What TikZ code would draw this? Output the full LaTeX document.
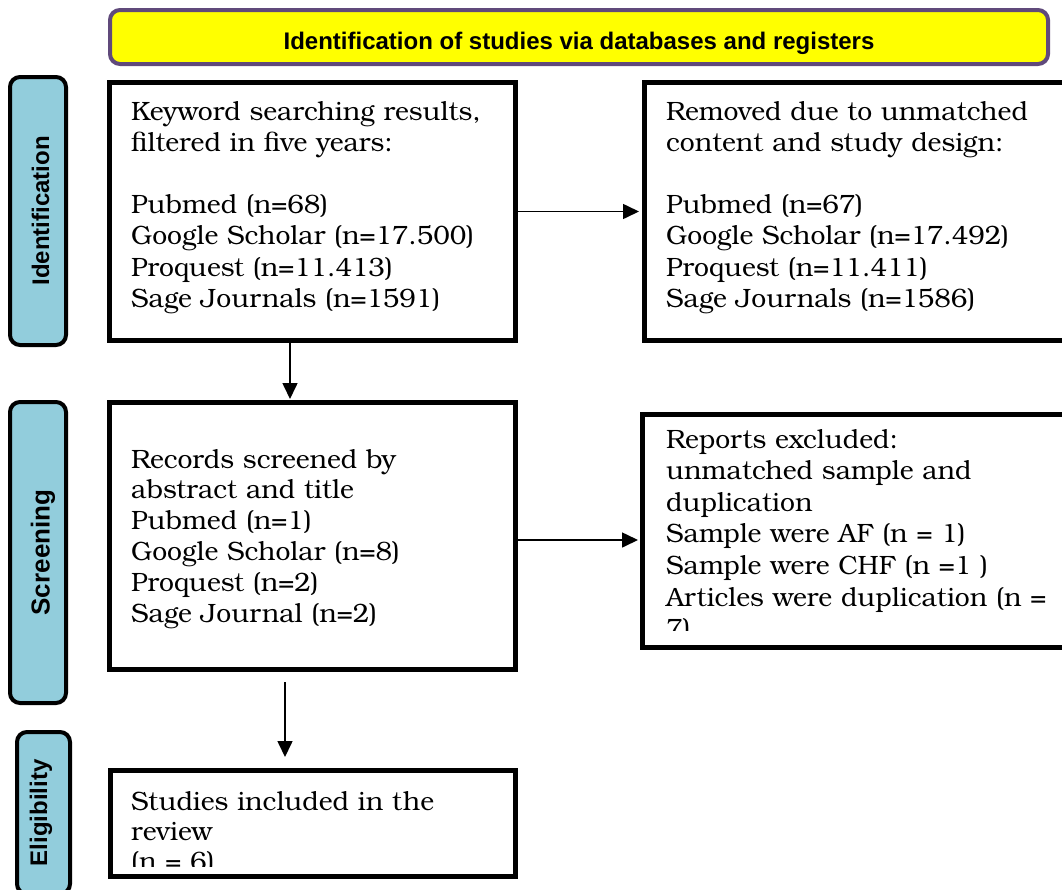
\documentclass[tikz,border=0pt]{standalone}
\usepackage{fontspec}
\setmainfont{texgyrebonum}[Extension=.otf,UprightFont=*-regular,BoldFont=*-bold,ItalicFont=*-italic,BoldItalicFont=*-bolditalic]
\newfontfamily\headfont{Liberation Sans}
\usetikzlibrary{arrows.meta}
\definecolor{hdrfill}{RGB}{255,255,0}
\definecolor{hdrline}{RGB}{96,74,123}
\definecolor{barfill}{RGB}{146,205,220}
\tikzset{
  box/.style={draw=black, line width=5pt, fill=white, inner sep=0pt},
  bar/.style={draw=black, line width=4pt, fill=barfill, rounded corners=10pt, inner sep=0pt},
  bartext/.style={font=\headfont\bfseries\fontsize{24}{28}\selectfont, rotate=90, anchor=base, inner sep=0pt},
  body/.style={font=\fontsize{26.5}{31.2}\selectfont, anchor=base west, inner sep=0pt, text width=420pt, align=left},
  arr/.style={line width=1.6pt, -{Triangle[length=16pt,width=15pt]}},
}
\begin{document}
\begin{tikzpicture}[x=1pt,y=-1pt]
\useasboundingbox (0,0) rectangle (1062,889);
\clip (0,0) rectangle (1062,889);
\fill[white] (0,0) rectangle (1062,889);

% header
\node[draw=hdrline, line width=4pt, fill=hdrfill, rounded corners=10pt, minimum width=938pt, minimum height=54pt, inner sep=0pt] (hdr) at (579,37) {};
\node[font=\headfont\bfseries\fontsize{24}{28}\selectfont, anchor=base, inner sep=0pt] (hdrtext) at (579,49) {Identification of studies via databases and registers};

% side bars
\node[bar, minimum width=56pt, minimum height=268pt] (barI) at (38,211) {};
\node[bartext] (barItext) at (49,211) {Identification};
\node[bar, minimum width=56pt, minimum height=301pt] (barS) at (38,552.5) {};
\node[bartext, font=\headfont\bfseries\fontsize{26}{30}\selectfont] (barStext) at (49.5,552.5) {Screening};
\node[bar, minimum width=53pt, minimum height=162pt] (barE) at (43.5,813) {};
\node[bartext] (barEtext) at (47,813) {Eligibility};

% boxes
\node[box, minimum width=406pt, minimum height=258pt] (b1) at (312.5,211.5) {};
\node[box, minimum width=430.5pt, minimum height=258pt] (b2) at (859.75,211.5) {};
\node[box, minimum width=406pt, minimum height=267pt] (b3) at (312.5,536) {};
\node[box, minimum width=432.5pt, minimum height=233pt] (b4) at (858.75,531) {};
\node[box, minimum width=405pt, minimum height=106pt] (b5) at (313,823.5) {};

% texts
\node[body] (t1) at (131,120) {Keyword searching results,\\filtered in five years:\\[31.2pt]Pubmed (n=68)\\Google Scholar (n=17.500)\\Proquest (n=11.413)\\Sage Journals (n=1591)};
\node[body] (t2) at (666,120) {Removed due to unmatched\\content and study design:\\[31.2pt]Pubmed (n=67)\\Google Scholar (n=17.492)\\Proquest (n=11.411)\\Sage Journals (n=1586)};
\node[body, font=\fontsize{26.5}{30.8}\selectfont] (t3) at (131,468) {Records screened by\\abstract and title\\Pubmed (n=1)\\Google Scholar (n=8)\\Proquest (n=2)\\Sage Journal (n=2)};
\begin{scope}
\clip (645,417) rectangle (1062,630);
\node[body, font=\fontsize{26.5}{31.6}\selectfont] (t4) at (666,448) {Reports excluded:\\unmatched sample and\\duplication\\Sample were AF (n = 1)\\Sample were CHF (n =1 )\\Articles were duplication (n =\\7)};
\end{scope}
\begin{scope}
\clip (113,773) rectangle (513,866);
\node[body, font=\fontsize{26.5}{30}\selectfont] (t5) at (131,810) {Studies included in the\\review\\(n = 6)};
\end{scope}

% arrows
\draw[arr, shorten >=3pt] (b1) -- (b2);
\draw[arr, shorten >=1pt] ([xshift=-22.5pt]b1.south) -- ([xshift=-22.5pt]b3.north);
\draw[arr, shorten >=2pt] ([yshift=-4pt]b3.east) -- ([yshift=-4pt]b3.east -| b4.west);
\draw[arr, shorten <=10pt, shorten >=11pt] ([xshift=-27.5pt]b3.south) -- ([xshift=-27.5pt]b3.south |- b5.north);
\end{tikzpicture}
\end{document}
